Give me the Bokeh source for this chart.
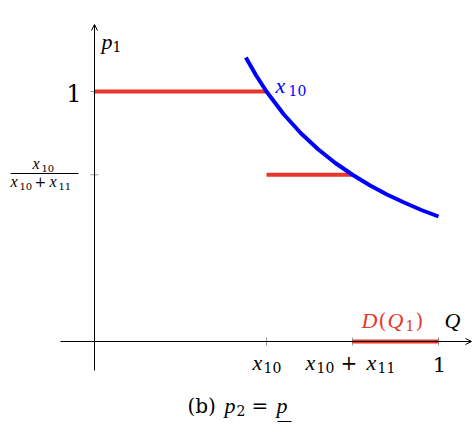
from bokeh.plotting import figure
from bokeh.models import Arrow, OpenHead
from bokeh.core.properties import value
from bokeh.embed import file_html
from bokeh.resources import INLINE

# ---- data ----
curve_q = [0.44, 0.47, 0.5, 0.55, 0.6, 0.65, 0.7, 0.75, 0.8, 0.85, 0.9, 0.95, 1.0]
curve_p = [1.136, 1.064, 1.0, 0.909, 0.833, 0.769, 0.714, 0.667, 0.625, 0.588, 0.556, 0.526, 0.5]
step_x0 = [0.0, 0.5]
step_x1 = [0.5, 0.75]
step_y = [1.0, 0.667]
dq_x0 = [0.75]
dq_x1 = [1.0]
dq_y = [0.0]
x_tick_vals = [0.5, 0.75, 1.0]
y_tick_vals = [1.0, 0.667]

RED = "#e8362a"
BLUE = "#0000ff"
ITALIC_FONT = "Liberation Serif"
ROMAN_FONT = "DejaVu Serif"
W, H = 472, 434
SHIFT_EM = 0.33  # baseline correction, fraction of font size

# pixel <-> data layout helpers (origin at px 94, 341)
X0, Y0, SX, SY = 94.0, 341.0, 344.0, 250.0


def X(px):
    return (px - X0) / SX


def Y(py):
    return (Y0 - py) / SY


p = figure(width=W, height=H, x_range=(X(0), X(W)), y_range=(Y(H), Y(0)),
           x_axis_type=None, y_axis_type=None, toolbar_location=None,
           output_backend="svg", min_border=0, outline_line_color=None)
p.grid.visible = False


def piece(px, py, txt, size, italic=True, color="black", align="left"):
    p.text(x=[X(px)], y=[Y(py - SHIFT_EM * size)], text=[txt], text_align=align,
           text_baseline="alphabetic",
           text_font=value(ITALIC_FONT if italic else ROMAN_FONT),
           text_font_size=f"{size}px",
           text_font_style="italic" if italic else "normal", text_color=color)


# axes with arrows
p.add_layout(Arrow(x_start=X(60), y_start=0, x_end=X(471), y_end=0, line_width=1,
                   line_color="black", end=OpenHead(size=6, line_width=1, line_color="black")))
p.add_layout(Arrow(x_start=0, y_start=Y(370), x_end=0, y_end=Y(24), line_width=1,
                   line_color="black", end=OpenHead(size=6, line_width=1, line_color="black")))

# tick marks
p.segment(x0=x_tick_vals, x1=x_tick_vals, y0=[Y(345)] * 3, y1=[Y(337)] * 3,
          line_color="#999999", line_width=1)
p.segment(x0=[X(90)] * 2, x1=[X(98)] * 2, y0=y_tick_vals, y1=y_tick_vals,
          line_color="#999999", line_width=1)

# demand steps
p.segment(x0=step_x0, x1=step_x1, y0=step_y, y1=step_y, line_color=RED, line_width=4)
p.segment(x0=dq_x0, x1=dq_x1, y0=dq_y, y1=dq_y, line_color=RED, line_width=4)

# curve
p.line(curve_q, curve_p, line_color=BLUE, line_width=4)

# x tick labels
piece(252, 369, "x", 22)
piece(263, 372, "10", 14, italic=False)
piece(305, 369, "x", 22)
piece(316, 372, "10", 14, italic=False)
piece(340, 369, "+", 20, italic=False)
piece(366, 369, "x", 22)
piece(377, 372, "11", 14, italic=False)
piece(439, 371, "1", 21, italic=False, align="center")

# y tick labels
piece(81, 100, "1", 24, italic=False, align="right")
piece(32, 168, "x", 16)
piece(41, 171, "10", 10, italic=False)
p.segment(x0=[X(10)], x1=[X(78)], y0=[Y(173)], y1=[Y(173)], line_color="black", line_width=1)
piece(10, 186, "x", 16)
piece(19, 189, "10", 10, italic=False)
piece(34, 186, "+", 14, italic=False)
piece(49, 186, "x", 16)
piece(58, 189, "11", 10, italic=False)

# axis names
piece(101, 48, "p", 22)
piece(112, 51, "1", 14, italic=False)
piece(444, 327, "Q", 22)

# curve label
piece(275, 92, "x", 22, color=BLUE)
piece(288, 95, "10", 14, italic=False, color=BLUE)

# demand label D(Q1)
piece(361, 327, "D", 22, color=RED)
piece(378, 327, "(", 20, italic=False, color=RED)
piece(387, 327, "Q", 22, color=RED)
piece(405, 330, "1", 14, italic=False, color=RED)
piece(415, 327, ")", 20, italic=False, color=RED)

# caption
piece(187, 412, "(b)", 20, italic=False)
piece(224, 412, "p", 22)
piece(236, 415, "2", 14, italic=False)
piece(251, 412, "=", 20, italic=False)
piece(276, 412, "p", 22)
p.segment(x0=[X(277)], x1=[X(291)], y0=[Y(421)], y1=[Y(421)], line_color="black", line_width=1)

open("out.html", "w").write(file_html(p, INLINE))
